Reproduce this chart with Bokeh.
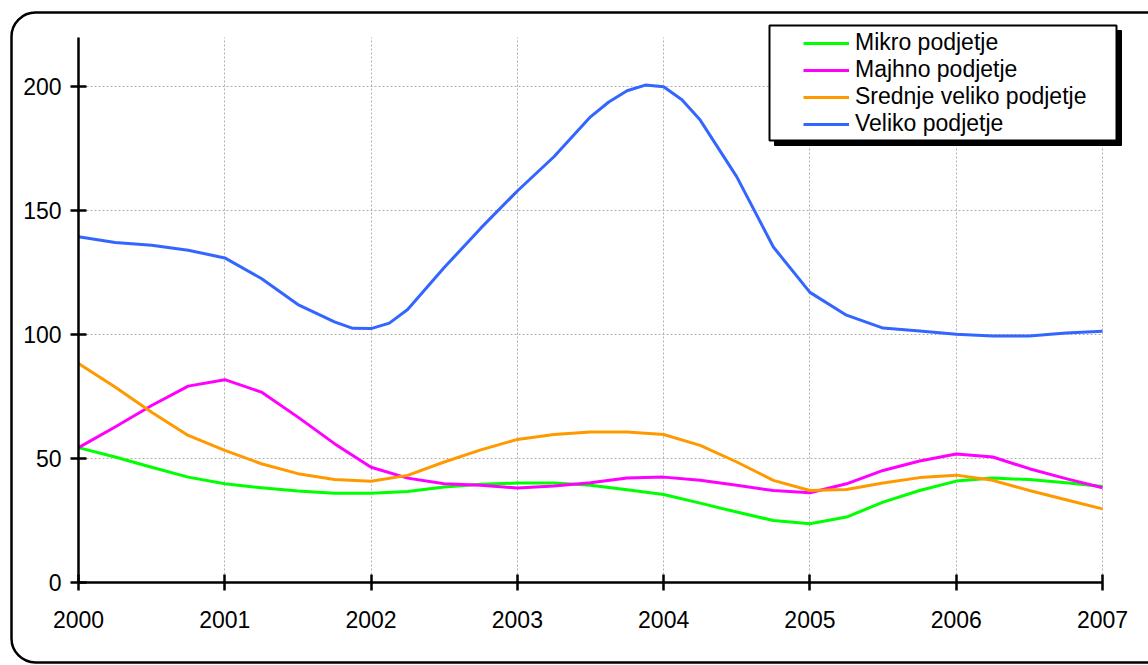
from bokeh.plotting import figure
from bokeh.models import BoxAnnotation, Legend, LegendItem, FixedTicker, Range1d
from bokeh.embed import file_html
from bokeh.resources import INLINE

years = [2000.0, 2000.25, 2000.5, 2000.75, 2001.0, 2001.25, 2001.5, 2001.75,
         2002.0, 2002.25, 2002.5, 2002.75, 2003.0, 2003.25, 2003.5, 2003.75,
         2004.0, 2004.25, 2004.5, 2004.75, 2005.0, 2005.25, 2005.5, 2005.75,
         2006.0, 2006.25, 2006.5, 2006.75, 2007.0]

mikro = [54.4, 50.6, 46.5, 42.5, 39.8, 38.2, 36.9, 36.0, 36.0, 36.7, 38.5, 39.6,
         40.1, 40.1, 39.2, 37.4, 35.5, 32.0, 28.4, 25.0, 23.7, 26.4, 32.4, 37.1,
         40.9, 42.1, 41.5, 40.2, 38.7]
majhno = [54.4, 62.7, 71.4, 79.2, 81.8, 76.8, 66.7, 56.0, 46.5, 42.1, 39.8, 39.2,
          38.1, 38.9, 40.2, 42.1, 42.5, 41.2, 39.2, 37.1, 36.2, 39.8, 45.2, 49.0,
          51.8, 50.6, 45.9, 41.9, 38.2]
srednje = [88.3, 78.8, 68.7, 59.3, 53.3, 47.9, 43.9, 41.5, 40.8, 43.2, 48.6, 53.5,
           57.7, 59.7, 60.7, 60.7, 59.7, 55.3, 48.6, 41.2, 37.1, 37.5, 40.1, 42.3,
           43.3, 41.2, 37.1, 33.4, 29.7]

veliko_years = [2000.0, 2000.25, 2000.5, 2000.75, 2001.0, 2001.25, 2001.5, 2001.75,
                2001.875, 2002.0, 2002.125, 2002.25, 2002.5, 2002.75, 2003.0, 2003.25,
                2003.5, 2003.625, 2003.75, 2003.875, 2004.0, 2004.125, 2004.25, 2004.5,
                2004.75, 2005.0, 2005.25, 2005.5, 2005.75, 2006.0, 2006.25, 2006.5,
                2006.75, 2007.0]
veliko = [139.4, 137.1, 136.0, 134.0, 130.9, 122.6, 112.1, 105.1,
          102.5, 102.4, 104.6, 110.1, 127.0, 142.9, 157.9, 171.7,
          187.8, 193.8, 198.3, 200.6, 199.9, 194.7, 186.5, 163.6,
          135.3, 117.0, 107.8, 102.6, 101.4, 100.1, 99.4, 99.4,
          100.6, 101.3]

series_names = ["Mikro podjetje", "Majhno podjetje", "Srednje veliko podjetje", "Veliko podjetje"]
series_colors = ["#00ff00", "#ff00ff", "#ff9900", "#3366ff"]
x_ticks = [2000, 2001, 2002, 2003, 2004, 2005, 2006, 2007]
y_ticks = [0, 50, 100, 150, 200]
x_lo, x_hi = 2000, 2007
y_lo, y_hi = 0, 220

FONT = "Liberation Sans"
W, H = 1148, 665
# pixel placement of the data area inside the canvas
PX_L, PX_R, PX_T, PX_B = 78, 1102, 36.5, 582

xs = (x_hi - x_lo) / (PX_R - PX_L)
ys = (y_hi - y_lo) / (PX_B - PX_T)
x_range = Range1d(x_lo - PX_L * xs, x_hi + (W - PX_R) * xs)
y_range = Range1d(y_lo - (H - PX_B) * ys, y_hi + PX_T * ys)

p = figure(width=W, height=H, x_range=x_range, y_range=y_range,
           output_backend="svg", toolbar_location=None, min_border=0)
p.outline_line_color = None
p.background_fill_color = "white"
p.border_fill_color = "white"

p.xaxis.fixed_location = y_lo
p.yaxis.fixed_location = x_lo
p.xaxis.bounds = (x_lo, x_hi)
p.yaxis.bounds = (y_lo, y_hi)
for ax, ticks in ((p.xaxis[0], x_ticks), (p.yaxis[0], y_ticks)):
    ax.ticker = FixedTicker(ticks=ticks)
    ax.axis_line_width = 2.5
    ax.axis_line_color = "black"
    ax.major_tick_line_width = 2.5
    ax.major_tick_line_color = "black"
    ax.major_tick_in = 8
    ax.major_tick_out = 8
    ax.minor_tick_line_color = None
    ax.major_label_text_font = FONT
    ax.major_label_text_font_size = "23px"
    ax.major_label_text_color = "black"
p.xaxis.major_label_standoff = 20
p.yaxis.major_label_standoff = 9

for g in (p.xgrid[0], p.ygrid[0]):
    g.grid_line_color = "#b0b0b0"
    g.grid_line_dash = "2 2"
    g.grid_line_width = 1
p.xgrid.ticker = FixedTicker(ticks=x_ticks)
p.ygrid.ticker = FixedTicker(ticks=y_ticks)
p.xgrid.bounds = (x_lo, x_hi)
p.ygrid.bounds = (y_lo, y_hi)
p.xgrid.cross_bounds = (y_lo, y_hi)
p.ygrid.cross_bounds = (x_lo, x_hi)

renderers = []
for xv, vals, col in zip((years, years, years, veliko_years),
                         (mikro, majhno, srednje, veliko), series_colors):
    r = p.line(xv, vals, line_color=col, line_width=3, line_join="round")
    renderers.append(r)

cu = dict(left_units="canvas", right_units="canvas", top_units="canvas", bottom_units="canvas")
shadow = BoxAnnotation(left=774, right=1121, top=30, bottom=145, fill_color="black",
                       fill_alpha=1, line_color="black", line_alpha=1, line_width=1, **cu)
box = BoxAnnotation(left=769, right=1116, top=25, bottom=140, fill_color="white",
                    fill_alpha=1, line_color="black", line_alpha=1, line_width=2, **cu)
frame_box = BoxAnnotation(left=11, right=1172, top=12, bottom=662, fill_alpha=0,
                          line_color="black", line_alpha=1, line_width=2.5, border_radius=24,
                          level="overlay", **cu)
p.add_layout(shadow)
p.add_layout(box)

legend = Legend(items=[LegendItem(label=n, renderers=[r]) for n, r in zip(series_names, renderers)],
                location=(803, H - 137), padding=0, margin=0, spacing=0,
                label_height=26, glyph_height=26, glyph_width=46, label_standoff=6,
                label_text_font=FONT, label_text_font_size="23px", label_text_color="black",
                background_fill_alpha=0, border_line_alpha=0)
p.add_layout(legend)
p.add_layout(frame_box)

open("out.html", "w").write(file_html(p, INLINE))
